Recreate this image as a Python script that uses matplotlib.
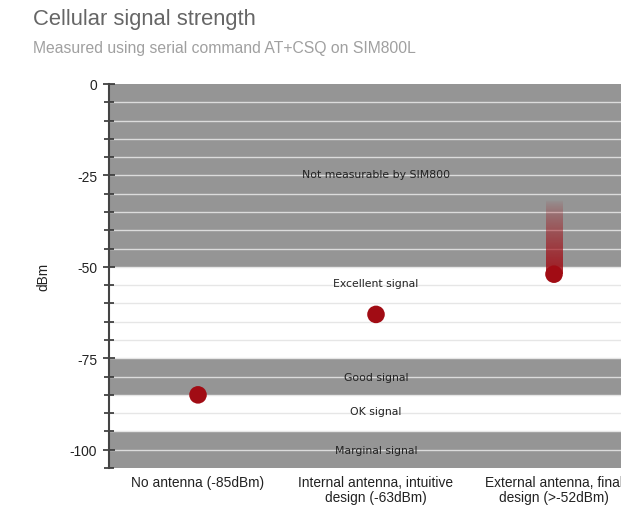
import numpy as np
import matplotlib
matplotlib.use("Agg")
import matplotlib.pyplot as plt
from matplotlib.colors import to_rgb

plt.rcParams["font.family"] = ["Liberation Sans", "DejaVu Sans"]

# data
categories = ["No antenna (-85dBm)",
              "Internal antenna, intuitive\ndesign (-63dBm)",
              "External antenna, final\ndesign (>-52dBm)"]
signal_dbm = [-85, -63, -52]
# possible range above the measured value (only for the last one)
range_top = [None, None, -32]

band_edges = [(0, -50), (-50, -75), (-75, -85), (-85, -95), (-95, -105)]
band_labels = ["Not measurable by SIM800", "Excellent signal", "Good signal",
               "OK signal", "Marginal signal"]
band_label_y = [-24.5, -54.5, -80, -89.5, -100]
band_shaded = [True, False, True, False, True]

gray = "#959595"
red = "#a10c14"

fig = plt.figure(figsize=(6.21, 5.06), dpi=100)
ax = fig.add_axes([109 / 621, 1 - 469 / 506, 534 / 621, 384 / 506])

x = np.arange(len(categories))
ax.set_xlim(-0.5, len(categories) - 0.5)
ax.set_ylim(-105, 0)

# bands
for (top, bot), shaded in zip(band_edges, band_shaded):
    if shaded:
        ax.axhspan(bot, top, color=gray, lw=0, zorder=0)

# grid lines every 5 dBm
for y in range(-100, 0, 5):
    shaded = any(s and b < y < t for (t, b), s in zip(band_edges, band_shaded))
    ax.axhline(y, color="#dcdcdc" if shaded else "#e6e6e6", lw=1, zorder=1)

for lbl, ly in zip(band_labels, band_label_y):
    ax.text(1, ly, lbl, ha="center", va="center", fontsize=7.8,
            color="#222222", family="DejaVu Sans", zorder=2)

# gradient range bar
for xi, v, top in zip(x, signal_dbm, range_top):
    if top is None:
        continue
    rgba = np.zeros((100, 1, 4))
    rgba[..., :3] = to_rgb(red)
    rgba[:, 0, 3] = np.linspace(0.0, 0.85, 100) ** 0.7
    ax.imshow(rgba, extent=(xi - 0.045, xi + 0.045, v, top), origin="upper",
              aspect="auto", zorder=3, interpolation="bilinear")

ax.scatter(x, signal_dbm, s=160, color=red, zorder=4, edgecolors="none")

ax.set_xticks(x)
ax.set_xticklabels(categories, fontsize=9.9, color="#222222", linespacing=1.1)
ax.tick_params(axis="x", length=0, pad=5)

ax.set_yticks([0, -25, -50, -75, -100])
ax.set_yticklabels(["0", "-25", "-50", "-75", "-100"])
ax.set_yticks(np.arange(-105, 0, 5), minor=True)
ax.tick_params(axis="y", which="major", length=9, width=1.2, direction="inout",
               color="#333333", labelsize=9.9, labelcolor="#222222", pad=4)
ax.tick_params(axis="y", which="minor", length=7, width=1.2, direction="inout",
               color="#333333")

for s in ["top", "right", "bottom"]:
    ax.spines[s].set_visible(False)
ax.spines["left"].set_color("#444444")
ax.spines["left"].set_linewidth(1.5)

ax.set_ylabel("dBm", fontsize=9.9, color="#222222", labelpad=14)

fig.text(33 / 621, 1 - 20 / 506, "Cellular signal strength", fontsize=15.8,
         color="#666666", va="center")
fig.text(33 / 621, 1 - 48 / 506, "Measured using serial command AT+CSQ on SIM800L",
         fontsize=11.3, color="#a0a0a0", va="center")

fig.savefig("out.png", dpi=100)
